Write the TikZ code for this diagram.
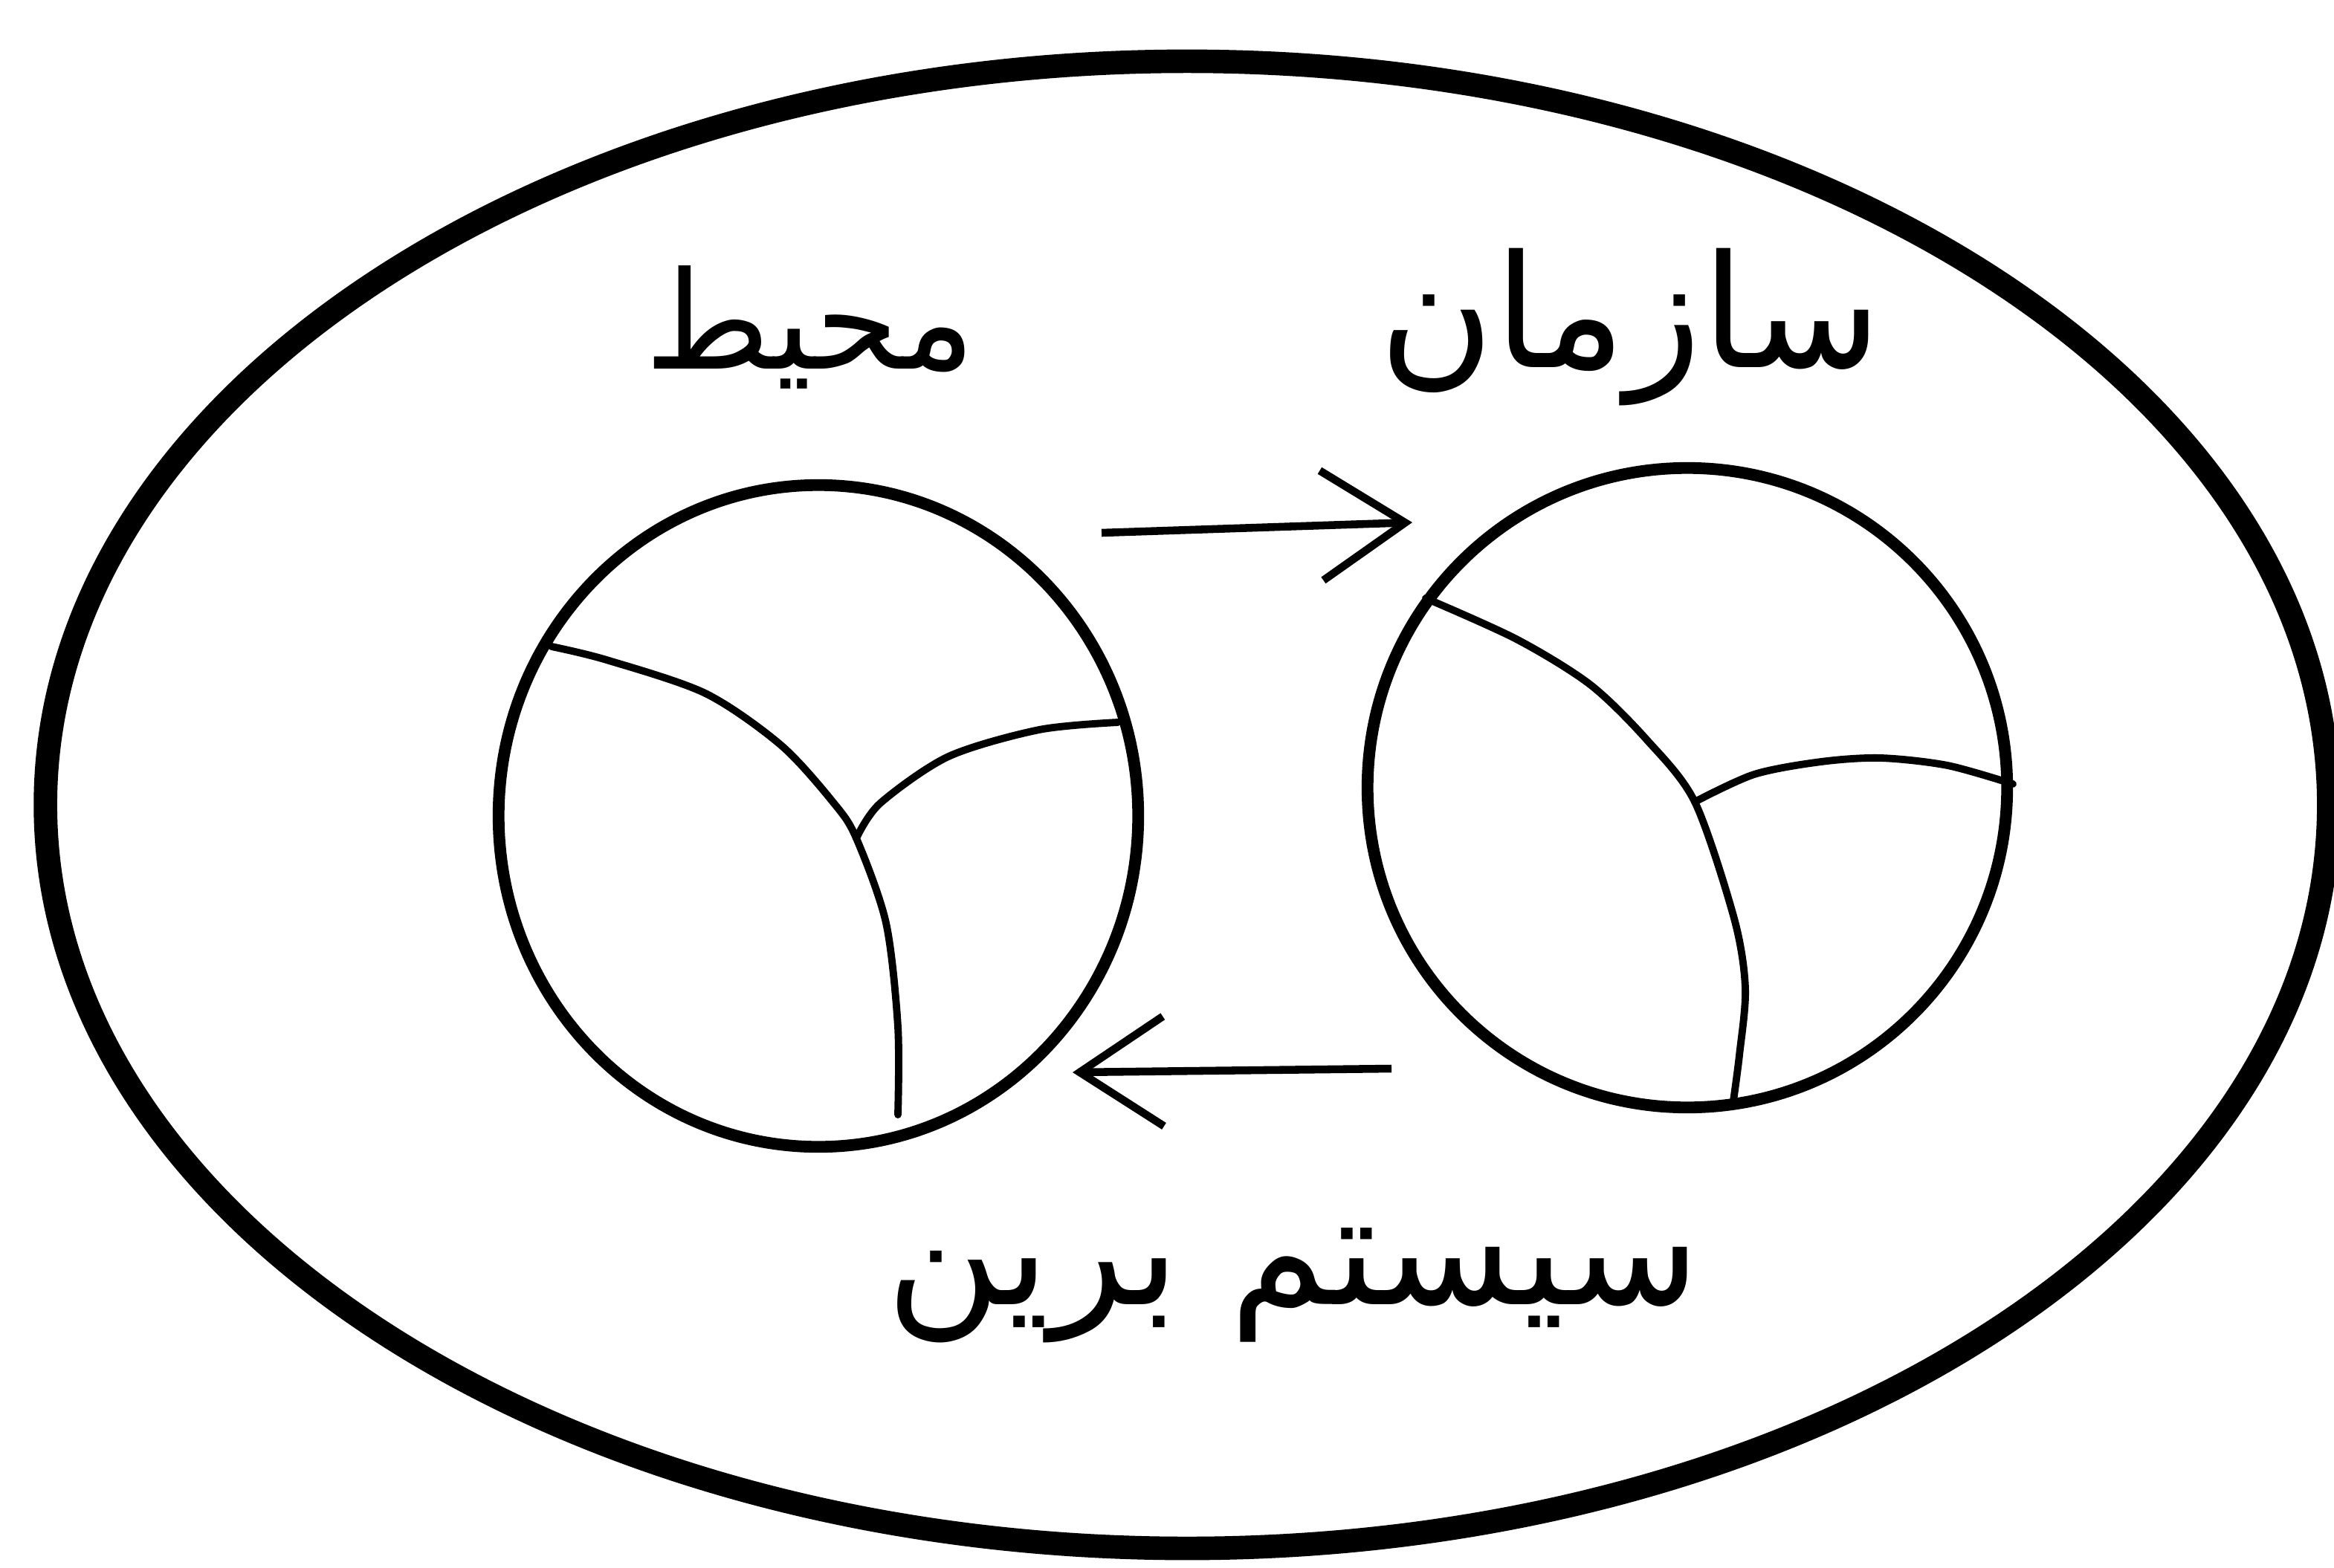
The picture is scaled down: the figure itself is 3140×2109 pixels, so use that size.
\documentclass[tikz,border=0pt]{standalone}
\usepackage{fontspec}
\newfontfamily\farsi[Script=Arabic]{DejaVu Sans}
\TeXXeTstate=1
\usetikzlibrary{arrows.meta,shapes.geometric}
\tikzstyle{world}=[ellipse,draw=black,line width=9pt,minimum width=30.7cm,minimum height=20.0cm]
\tikzstyle{unit}=[ellipse,draw=black,line width=4.5pt]
\tikzstyle{part}=[line width=2.8pt,line cap=round]
\tikzstyle{flow}=[-{Straight Barb[length=32pt,width=42pt]}, line width=3pt]
\tikzstyle{word}=[font=\farsi\fontsize{60}{70}\selectfont,inner sep=0pt]

\begin{document}
\begin{tikzpicture}[x=0.01cm,y=-0.01cm]
\useasboundingbox (0,0) rectangle (3140,2109);
\node[world] (W) at (1597,1083) {};
\node[unit,minimum width=8.6cm,minimum height=8.9cm] (env) at (1101,1098) {};
\node[unit,minimum width=8.6cm,minimum height=8.6cm] (org) at (2270,1060) {};
\draw[part] plot[smooth] coordinates {(742,870) (816,888) (949,933) (1051,1003) (1122,1081) (1152,1128) (1192,1242) (1208,1382) (1208,1500)};
\draw[part] plot[smooth] coordinates {(1152,1128) (1184,1081) (1276,1018) (1398,982) (1504,972)};
\draw[part] plot[smooth] coordinates {(1918,805) (2040,860) (2139,921) (2215,995) (2280,1079) (2333,1236) (2348,1330) (2340,1420) (2331,1488)};
\draw[part] plot[smooth] coordinates {(2280,1079) (2360,1042) (2450,1025) (2530,1020) (2620,1030) (2708,1055)};
\coordinate (t1) at (1482,717);
\coordinate (t2) at (1900,703);
\coordinate (b1) at (1872,1438);
\coordinate (b2) at (1443,1443);
\draw[flow] (t1)--(t2);
\draw[flow] (b1)--(b2);
\node[word,font=\farsi\fontsize{52}{60}\selectfont] (envlab) at (1090,440) {\beginR محیط\endR};
\node[word] (orglab) at (2193,440) {\beginR سازمان\endR};
\node[word] (suplab) at (1740,1730) {\beginR سیستم برین\endR};
\end{tikzpicture}
\end{document}
